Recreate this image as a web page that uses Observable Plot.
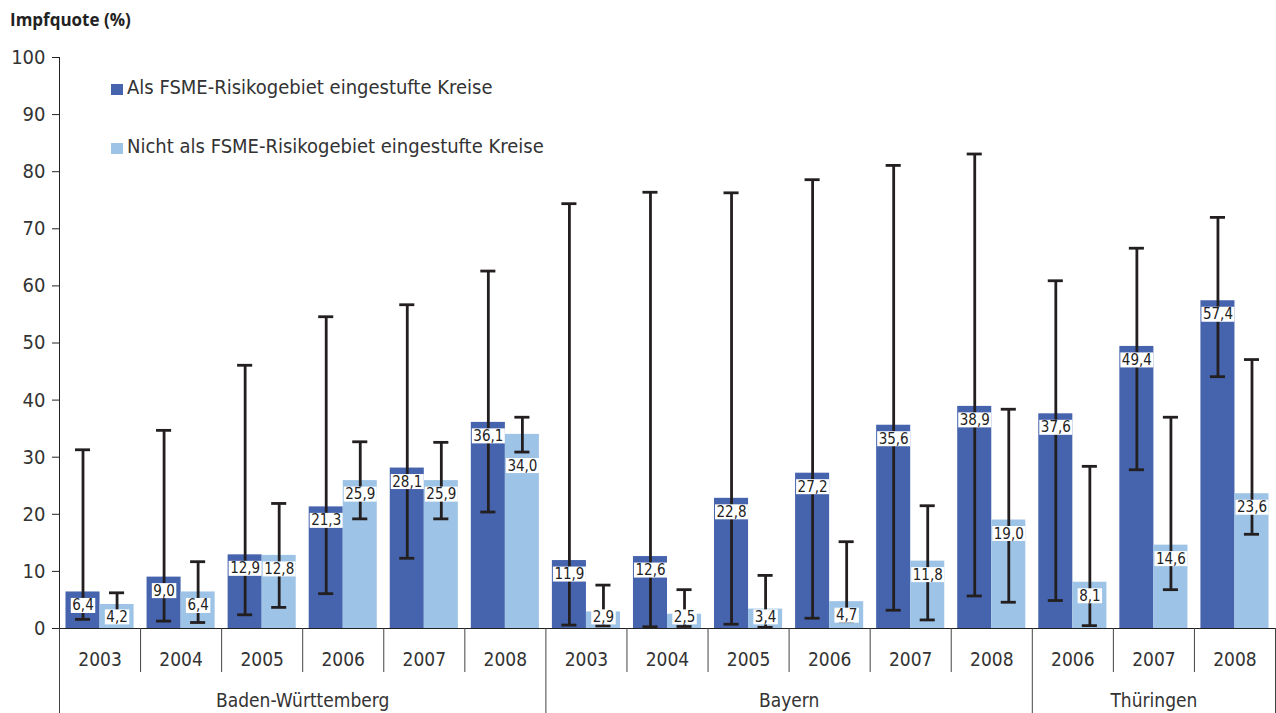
<!DOCTYPE html>
<html>
<head>
<meta charset="utf-8">
<script src="https://cdn.jsdelivr.net/npm/d3@7"></script>
<script src="https://cdn.jsdelivr.net/npm/@observablehq/plot@0.6"></script>
<style>
  body { margin: 0; background: #fff; }
  #wrap { position: relative; width: 1276px; height: 713px; overflow: hidden; }
  #title { height: 40px; position: relative; }
  #title span { position: absolute; left: 10px; top: 11px; font: bold 17px "Open Sans", "Liberation Sans", Arial, sans-serif; line-height: 17px; color: #222; white-space: nowrap; }
  .leg { position: absolute; left: 111px; font-family: "DejaVu Sans Condensed", sans-serif; font-size: 20px; line-height: 20px; color: #333; white-space: nowrap; height: 20px; }
  .leg i { position: absolute; left: 0; top: 7px; width: 12px; height: 11px; }
  .leg span { position: absolute; left: 16px; top: 0; }
</style>
</head>
<body>
<div id="wrap">
  <div id="title"><span>Impfquote (%)</span></div>
  <div id="chart"></div>
  <div class="leg" id="leg1" style="top:77px"><i></i><span></span></div>
  <div class="leg" id="leg2" style="top:136px"><i></i><span></span></div>
</div>
<script>
// ---- data ----
const regions = ["Baden-Württemberg", "Bayern", "Thüringen"];
const regionYears = [
  [2003, 2004, 2005, 2006, 2007, 2008],
  [2003, 2004, 2005, 2006, 2007, 2008],
  [2006, 2007, 2008]
];
const seriesNames = ["Als FSME-Risikogebiet eingestufte Kreise", "Nicht als FSME-Risikogebiet eingestufte Kreise"];
const seriesColors = ["#4664AD", "#9DC3E6"];

const riskValues = [6.4, 9.0, 12.9, 21.3, 28.1, 36.1, 11.9, 12.6, 22.8, 27.2, 35.6, 38.9, 37.6, 49.4, 57.4];
const riskLow    = [1.6, 1.3, 2.4, 6.1, 12.3, 20.4, 0.6, 0.3, 0.75, 1.8, 3.2, 5.7, 4.9, 27.8, 44.1];
const riskHigh   = [31.3, 34.7, 46.1, 54.6, 56.7, 62.6, 74.4, 76.4, 76.3, 78.6, 81.1, 83.1, 60.9, 66.6, 72.0];

const nonRiskValues = [4.2, 6.4, 12.8, 25.9, 25.9, 34.0, 2.9, 2.5, 3.4, 4.7, 11.8, 19.0, 8.1, 14.6, 23.6];
const nonRiskLow    = [2.0, 1.05, 3.7, 19.2, 19.2, 30.9, 0.45, 0.35, 0.2, 1.2, 1.5, 4.6, 0.5, 6.8, 16.5];
const nonRiskHigh   = [6.25, 11.7, 21.9, 32.7, 32.6, 37.0, 7.6, 6.8, 9.3, 15.2, 21.5, 38.4, 28.4, 37.0, 47.1];

const yTicks = [0, 10, 20, 30, 40, 50, 60, 70, 80, 90, 100];

// ---- derived tables ----
const cats = regionYears.flatMap((ys, r) => ys.map(y => ({region: regions[r], year: y})));
const nCat = cats.length;
const regionBounds = [0];
regionYears.forEach(ys => regionBounds.push(regionBounds[regionBounds.length - 1] + ys.length));
const regionCenters = regions.map((_, r) => (regionBounds[r] + regionBounds[r + 1]) / 2);
const yearBounds = d3.range(1, nCat).filter(i => !regionBounds.includes(i));
const yearCenters = d3.range(nCat).map(i => i + 0.5);

const rows = [];
cats.forEach((c, i) => {
  rows.push({i, s: seriesNames[0], side: -1, v: riskValues[i], lo: riskLow[i], hi: riskHigh[i]});
  rows.push({i, s: seriesNames[1], side: 1, v: nonRiskValues[i], lo: nonRiskLow[i], hi: nonRiskHigh[i]});
});

const barW = 0.42;     // fraction of a category band per bar
const capHalf = 0.093; // half cap width (fraction of band)
const cx = d => d.i + 0.5 + d.side * barW / 2;
const fmt = v => v.toFixed(1).replace(".", ",");
const labelY = d => {
  let y = Math.max(d.v - 2.4, 2);
  if (d.v > 10 && Math.abs(y - d.lo) < 1.6) y = d.lo - 2.4;
  return y;
};

const narrow = '"DejaVu Sans Condensed", sans-serif';

const chart = Plot.plot({
  width: 1276,
  height: 673,
  marginTop: 17,
  marginBottom: 85,
  marginLeft: 59,
  marginRight: 1,
  style: {fontFamily: narrow, fontSize: "19px", color: "#222", background: "#fff"},
  x: {domain: [0, nCat], axis: null},
  y: {domain: [0, 100], axis: null},
  color: {domain: seriesNames, range: seriesColors},
  marks: [
    Plot.rect(rows, {
      x1: d => d.side < 0 ? d.i + 0.5 - barW : d.i + 0.5,
      x2: d => d.side < 0 ? d.i + 0.5 : d.i + 0.5 + barW,
      y1: () => 0, y2: "v", fill: "s"
    }),
    Plot.ruleX(rows, {x: cx, y1: "lo", y2: "hi", stroke: "#231f20", strokeWidth: 2.8}),
    Plot.ruleY(rows, {y: "hi", x1: d => cx(d) - capHalf, x2: d => cx(d) + capHalf, stroke: "#231f20", strokeWidth: 2.8}),
    Plot.ruleY(rows, {y: "lo", x1: d => cx(d) - capHalf, x2: d => cx(d) + capHalf, stroke: "#231f20", strokeWidth: 2.8}),
    Plot.text(rows, {x: cx, y: labelY, text: d => fmt(d.v), fill: "#222", fontSize: 15, fontFamily: narrow}),
    // axes
    Plot.ruleX([0], {stroke: "#222"}),
    Plot.ruleY([0], {stroke: "#222"}),
    Plot.axisY({ticks: yTicks, tickSize: 7, tickPadding: 7, label: null, stroke: "#222", fill: "#333", fontSize: 20}),
    Plot.axisX({ticks: yearBounds, tickSize: 44, tickFormat: () => "", label: null, stroke: "#444"}),
    Plot.axisX({ticks: regionBounds, tickSize: 85, tickFormat: () => "", label: null, stroke: "#444"}),
    Plot.axisX({ticks: yearCenters, tickSize: 0, tickPadding: 24, tickFormat: d => String(cats[Math.floor(d)].year), label: null, fill: "#333"}),
    Plot.axisX({ticks: regionCenters, tickSize: 0, tickPadding: 65, tickFormat: d => regions[regionCenters.indexOf(d)], label: null, fill: "#333"})
  ]
});
document.getElementById("chart").appendChild(chart);

// white boxes behind value labels
const textGroups = chart.querySelectorAll('g[aria-label="text"]');
textGroups.forEach(g => {
  g.querySelectorAll("text").forEach(t => {
    const b = t.getBBox();
    const r = document.createElementNS("http://www.w3.org/2000/svg", "rect");
    r.setAttribute("x", b.x - 1.5);
    r.setAttribute("y", b.y + 1.5);
    r.setAttribute("width", b.width + 3);
    r.setAttribute("height", b.height - 3);
    r.setAttribute("fill", "#fff");
    const tr = t.getAttribute("transform");
    if (tr) r.setAttribute("transform", tr);
    t.parentNode.insertBefore(r, t);
  });
});

// legend
[["leg1", 0], ["leg2", 1]].forEach(([id, k]) => {
  const el = document.getElementById(id);
  el.querySelector("i").style.background = seriesColors[k];
  el.querySelector("span").textContent = seriesNames[k];
});
</script>
</body>
</html>
